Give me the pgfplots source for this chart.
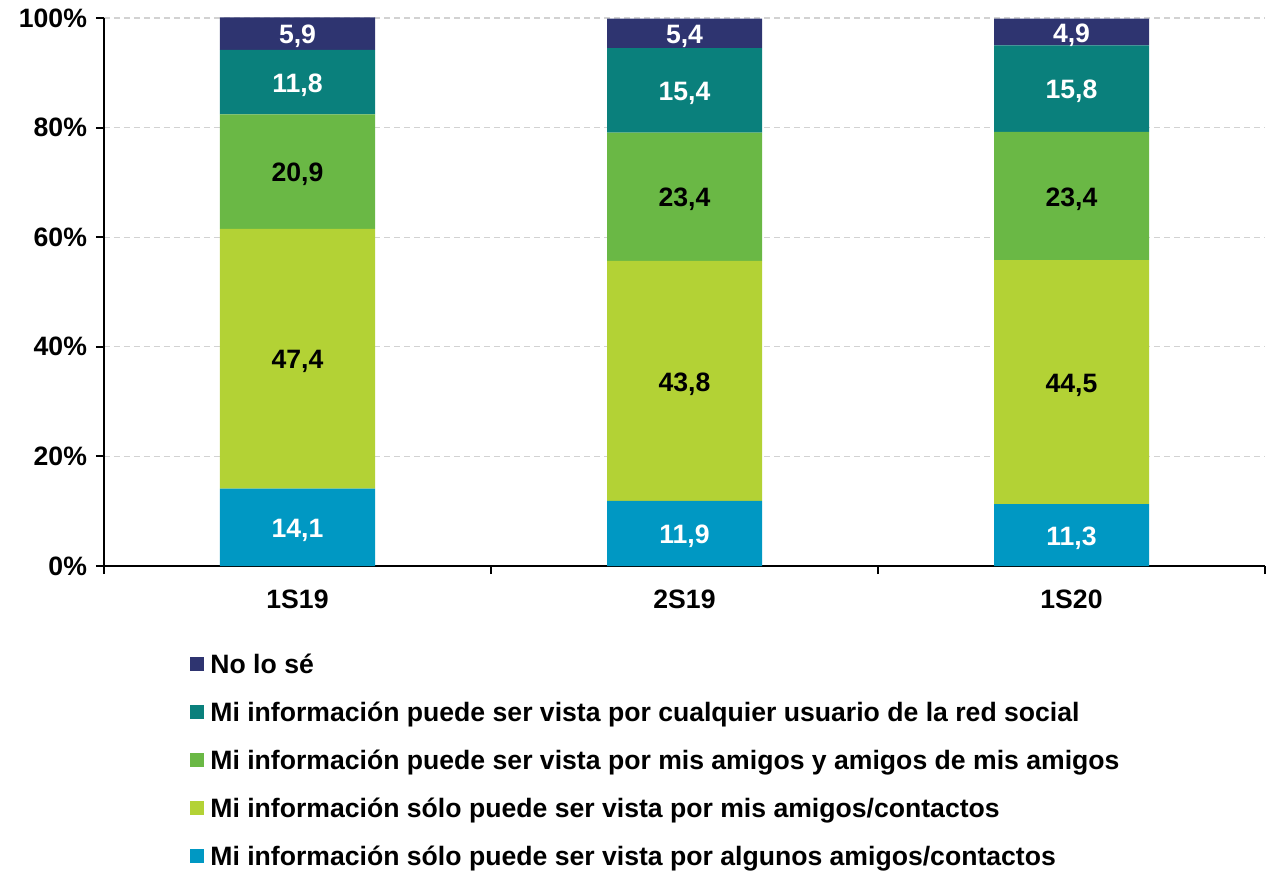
\documentclass[border=0pt]{standalone}
\usepackage{pgfplots}
\pgfplotsset{compat=1.18}
\usepackage{fontspec}
\setmainfont{Liberation Sans}
\definecolor{cNavy}{HTML}{2E3470}
\definecolor{cTeal}{HTML}{0A807C}
\definecolor{cGreen}{HTML}{6AB845}
\definecolor{cLime}{HTML}{B3D235}
\definecolor{cBlue}{HTML}{0098C3}
\newcommand{\lbl}{\bfseries\fontsize{13.3}{16}\selectfont}
\begin{document}
\begin{tikzpicture}
\useasboundingbox (-52pt,-153pt) rectangle (583pt,283pt);
\begin{axis}[
  at={(0,0)}, anchor=south west,
  scale only axis, x=193.5pt, y=2.74pt,
  ybar stacked, bar width=77.5pt,
  xmin=-0.5, xmax=2.5, ymin=0, ymax=100,
  clip=false,
  axis x line*=bottom, axis y line*=left,
  axis line style={line width=1pt,-},
  xtick={0,1,2}, xticklabels={1S19,2S19,1S20},
  minor xtick={-0.5,0.5,1.5,2.5},
  ytick={0,20,40,60,80,100}, yticklabels={0\%,20\%,40\%,60\%,80\%,100\%},
  tick align=outside, major tick length=4pt, minor tick length=4pt,
  tick style={black,line width=1pt},
  major x tick style={draw=none},
  ymajorgrids, grid style={gray!35,dash pattern=on 3pt off 2pt,line width=0.6pt},
  tick label style={font=\lbl},
  /pgf/number format/assume math mode=true,
  xticklabel style={yshift=-4.5pt},
  yticklabel style={xshift=-1pt},
  visualization depends on={rawy \as \rawy},
  nodes near coords={\pgfmathprintnumber[fixed,fixed zerofill,precision=1,use comma]{\rawy}},
  nodes near coords style={anchor=center,yshift=-1.5pt,font=\lbl},
  reverse legend,
  legend cell align=left,
  legend style={at={(0,0)},anchor=north west,xshift=43pt,yshift=-37.75pt,
    draw=none,fill=none,inner sep=0pt,row sep=0pt,font=\lbl,
    nodes={inner sep=0pt,text height=16pt,text depth=8pt},
    /tikz/every odd column/.append style={column sep=3pt}},
  legend image code/.code={\fill[#1] (0pt,-2.5pt) rectangle (7pt,4.5pt);},
]
\addplot[fill=cBlue,draw=none,nodes near coords style={text=white}]
  coordinates {(0,14.1) (1,11.9) (2,11.3)};
\addlegendentry{Mi información sólo puede ser vista por algunos amigos/contactos}
\addplot[fill=cLime,draw=none,nodes near coords style={text=black}]
  coordinates {(0,47.4) (1,43.8) (2,44.5)};
\addlegendentry{Mi información sólo puede ser vista por mis amigos/contactos}
\addplot[fill=cGreen,draw=none,nodes near coords style={text=black}]
  coordinates {(0,20.9) (1,23.4) (2,23.4)};
\addlegendentry{Mi información puede ser vista por mis amigos y amigos de mis amigos}
\addplot[fill=cTeal,draw=none,nodes near coords style={text=white}]
  coordinates {(0,11.8) (1,15.4) (2,15.8)};
\addlegendentry{Mi información puede ser vista por cualquier usuario de la red social}
\addplot[fill=cNavy,draw=none,nodes near coords style={text=white}]
  coordinates {(0,5.9) (1,5.4) (2,4.9)};
\addlegendentry{No lo sé}
\end{axis}
\end{tikzpicture}
\end{document}
